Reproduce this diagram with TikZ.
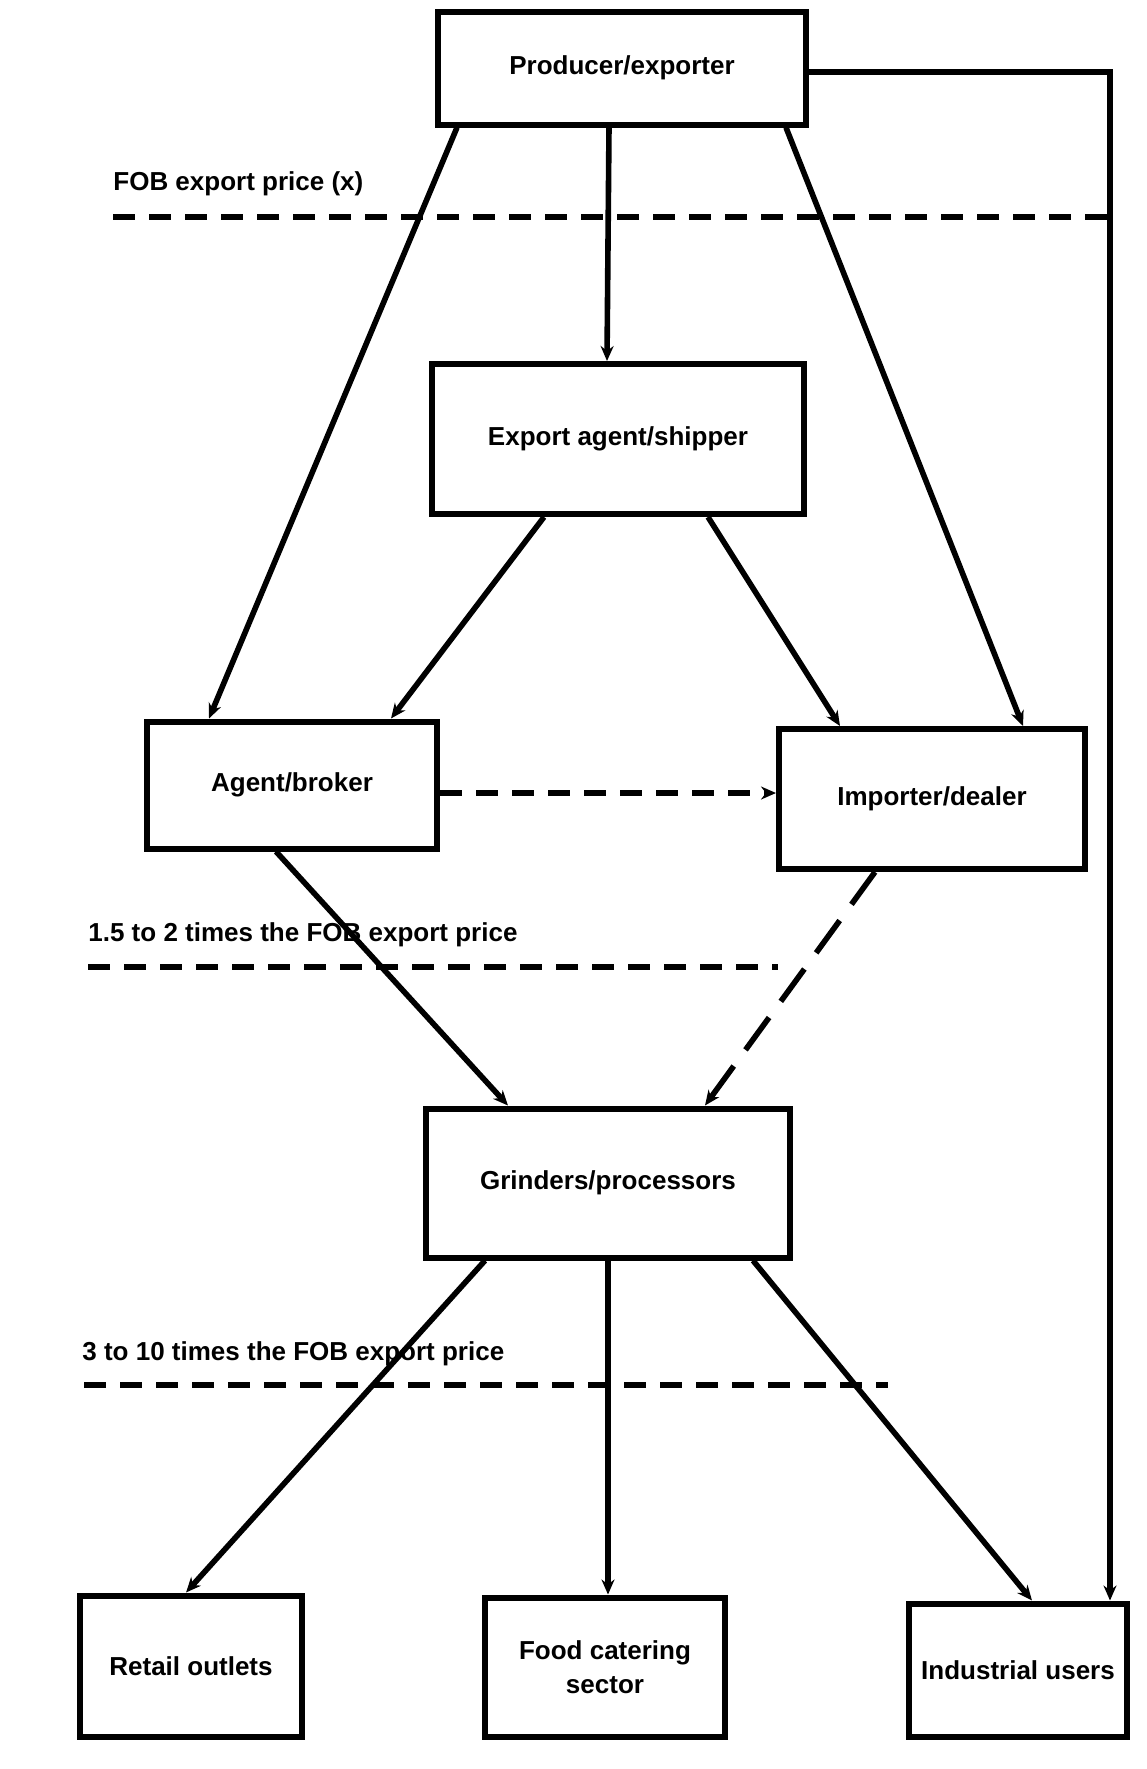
\documentclass[tikz,border=0pt]{standalone}
\usepackage{fontspec}
\setmainfont{Liberation Sans}
\usetikzlibrary{arrows.meta}
\tikzset{
  box/.style   = {draw, rectangle, line width=3pt, align=center, inner sep=2pt,
                  font=\bfseries\fontsize{13}{17}\selectfont},
  arr/.style   = {-{Stealth[length=7.5pt, width=6.5pt]}, line width=2.8pt},
  darr/.style  = {arr, dash pattern=on 11pt off 7pt},
  price/.style = {line width=2.8pt, dash pattern=on 11pt off 7pt},
  lbl/.style   = {anchor=west, inner sep=0pt, font=\bfseries\fontsize{13}{16}\selectfont}
}

\begin{document}
\begin{tikzpicture}[x=0.5pt, y=-0.5pt]
  \useasboundingbox (0,0) rectangle (1147,1769);

  % ── Supply side ──────────────────────────────────────────────────────────
  \node[box, minimum width=184pt, minimum height=56.5pt] (prod)   at (622,68)    {Producer/exporter};
  \node[box, minimum width=186pt, minimum height=75pt]   (ship)   at (618,439)   {Export agent/shipper};

  % ── Intermediaries ───────────────────────────────────────────────────────
  \node[box, minimum width=145pt, minimum height=63.5pt] (broker) at (292,785)   {Agent/broker};
  \node[box, minimum width=153pt, minimum height=70pt]   (dealer) at (932,799)   {Importer/dealer};
  \node[box, minimum width=182pt, minimum height=74.5pt] (grind)  at (608,1183)  {Grinders/processors};

  % ── End users ────────────────────────────────────────────────────────────
  \node[box, minimum width=111pt, minimum height=70.5pt] (retail) at (191,1666)  {Retail outlets};
  \node[box, minimum width=120pt, minimum height=69.5pt] (food)   at (605,1667)  {Food catering\\ sector};
  \node[box, minimum width=109pt, minimum height=66.5pt] (indus)  at (1018,1670) {Industrial users};

  % ── Price levels ─────────────────────────────────────────────────────────
  \node[lbl] (fobLbl)  at (113,184)  {FOB export price (x)};
  \coordinate (fobA)  at (113,217);
  \coordinate (fobB)  at (1110,217);
  \draw[price] (fobA) -- (fobB);

  \node[lbl] (midLbl)  at (88,935)   {1.5 to 2 times the FOB export price};
  \coordinate (midA)  at (88,967);
  \coordinate (midB)  at (778,967);
  \draw[price] (midA) -- (midB);

  \node[lbl] (endLbl)  at (82,1354)  {3 to 10 times the FOB export price};
  \coordinate (endA)  at (84,1385);
  \coordinate (endB)  at (888,1385);
  \draw[price] (endA) -- (endB);

  % ── Connections ──────────────────────────────────────────────────────────

  % Producer → first buyers
  \draw[arr] ([xshift=-82.5pt]prod.south) -- ([xshift=-41.5pt]broker.north);
  \draw[arr] ([xshift=-6.5pt]prod.south)  -- ([xshift=-5.5pt]ship.north);
  \draw[arr] ([xshift=82pt]prod.south)    -- ([xshift=45.5pt]dealer.north);
  \draw[arr] ([yshift=-2pt]prod.east) -| ([xshift=46pt]indus.north);

  % Shipper → broker / dealer
  \draw[arr] ([xshift=-37pt]ship.south) -- ([xshift=49.5pt]broker.north);
  \draw[arr] ([xshift=45pt]ship.south)  -- ([xshift=-46pt]dealer.north);

  % Broker ⇢ dealer
  \draw[darr] ([yshift=-4pt]broker.east) -- ([yshift=-4pt]broker.east -| dealer.west);

  % To grinders
  \draw[arr]  ([xshift=-8pt]broker.south)   -- ([xshift=-50pt]grind.north);
  \draw[darr, dash pattern=on 20pt off 10pt]
              ([xshift=-28.5pt]dealer.south) -- ([xshift=48.5pt]grind.north);

  % Grinders → end users
  \draw[arr] ([xshift=-61.5pt]grind.south) -- ([xshift=-2.5pt]retail.north);
  \draw[arr] (grind.south)                 -- (grind.south |- food.north);
  \draw[arr] ([xshift=72.5pt]grind.south)  -- ([xshift=7pt]indus.north);

\end{tikzpicture}
\end{document}
